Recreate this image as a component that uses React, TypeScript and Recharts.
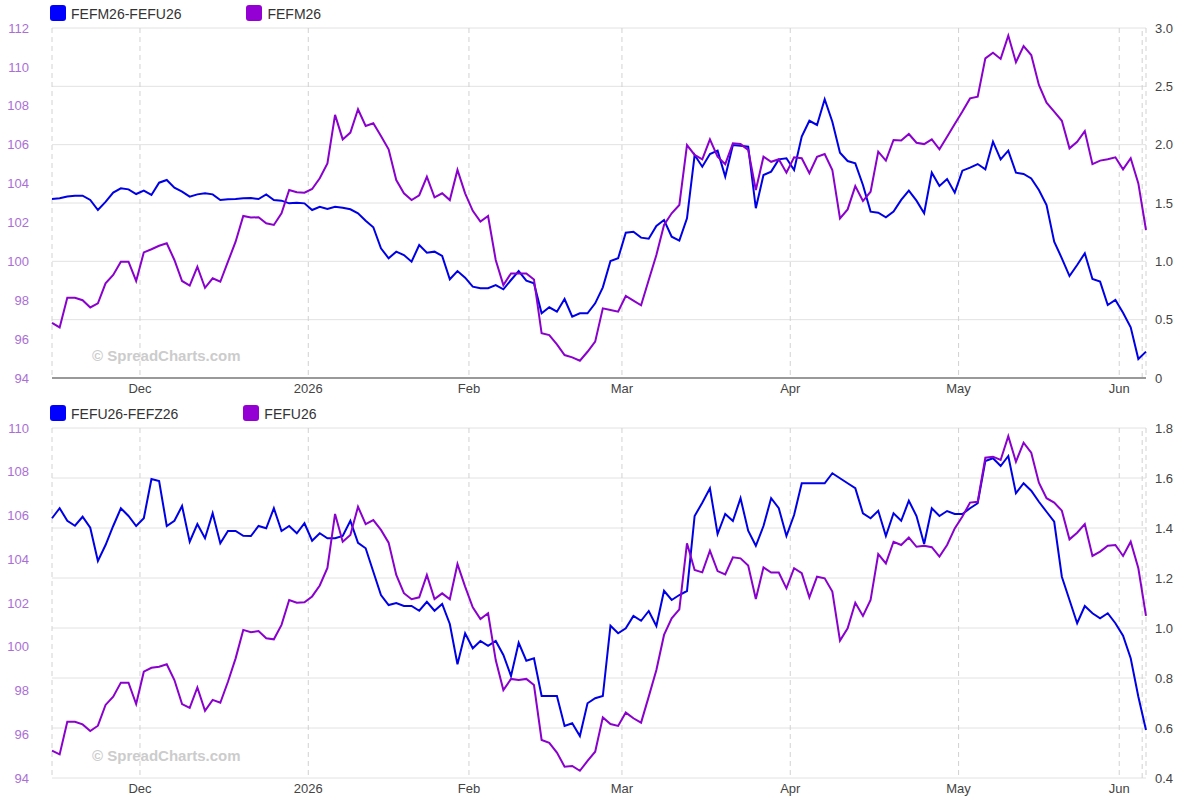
import React from 'react';
import { LineChart, Line, XAxis, YAxis, CartesianGrid, ReferenceLine } from 'recharts';

// Trading-day index 0 = 13 Nov 2025 ... 143 = 4 Jun 2026
const monthTickPos = [11.5, 33.5, 54.5, 74.5, 96.5, 118.5, 139.5];
const monthTickLabels = ['Dec', '2026', 'Feb', 'Mar', 'Apr', 'May', 'Jun'];
const lastMarker = 142.5;

const fefm26 = [
  96.84, 96.6, 98.13, 98.13, 98.0, 97.63, 97.84, 98.87, 99.3, 99.98,
  99.98, 98.99, 100.46, 100.62, 100.8, 100.93, 100.07, 98.99, 98.75, 99.72,
  98.64, 99.13, 98.95, 99.98, 101.01, 102.33, 102.25, 102.27, 101.96, 101.87,
  102.47, 103.67, 103.55, 103.53, 103.72, 104.27, 105.04, 107.53, 106.27, 106.62,
  107.82, 106.96, 107.1, 106.45, 105.76, 104.18, 103.5, 103.15, 103.4, 104.35,
  103.29, 103.5, 103.15, 104.7, 103.5, 102.6, 102.04, 102.33, 100.07, 98.78,
  99.38, 99.38, 99.38, 99.07, 96.3, 96.21, 95.73, 95.18, 95.06, 94.89,
  95.35, 95.87, 97.58, 97.5, 97.41, 98.22, 97.98, 97.74, 99.04, 100.33,
  101.87, 102.47, 102.9, 105.98, 105.47, 105.25, 106.27, 105.38, 105.0, 106.07,
  106.03, 105.73, 103.67, 105.38, 105.12, 105.25, 104.56, 105.35, 105.3, 104.53,
  105.38, 105.52, 104.7, 102.21, 102.67, 103.87, 103.1, 103.58, 105.64, 105.18,
  106.24, 106.21, 106.55, 106.1, 106.03, 106.27, 105.76, 106.41, 107.06, 107.7,
  108.38, 108.47, 110.44, 110.73, 110.41, 111.61, 110.24, 111.07, 110.61, 109.07,
  108.16, 107.7, 107.23, 105.81, 106.15, 106.7, 105.0, 105.18, 105.25, 105.35,
  104.73, 105.3, 104.01, 101.61,
];

const spreadMU = [
  1.534, 1.54, 1.555, 1.563, 1.563, 1.526, 1.44, 1.51, 1.589, 1.626,
  1.617, 1.577, 1.606, 1.569, 1.674, 1.697, 1.631, 1.597, 1.554, 1.574,
  1.583, 1.574, 1.526, 1.532, 1.534, 1.54, 1.543, 1.534, 1.574, 1.526,
  1.52, 1.497, 1.503, 1.497, 1.44, 1.468, 1.449, 1.468, 1.46, 1.446,
  1.412, 1.348, 1.292, 1.112, 1.026, 1.083, 1.054, 0.997, 1.14, 1.074,
  1.083, 1.046, 0.846, 0.917, 0.86, 0.783, 0.769, 0.769, 0.797, 0.76,
  0.84, 0.917, 0.834, 0.811, 0.555, 0.606, 0.568, 0.677, 0.526, 0.555,
  0.555, 0.64, 0.777, 1.003, 1.026, 1.246, 1.254, 1.203, 1.194, 1.303,
  1.354, 1.211, 1.177, 1.369, 1.911, 1.811, 1.92, 1.949, 1.726, 1.997,
  1.991, 1.983, 1.455, 1.74, 1.769, 1.874, 1.883, 1.783, 2.07, 2.205,
  2.169, 2.389, 2.197, 1.931, 1.86, 1.84, 1.654, 1.426, 1.417, 1.377,
  1.426, 1.526, 1.606, 1.52, 1.412, 1.76, 1.646, 1.706, 1.589, 1.777,
  1.803, 1.834, 1.789, 2.026, 1.874, 1.949, 1.76, 1.749, 1.711, 1.611,
  1.483, 1.168, 1.026, 0.874, 0.969, 1.069, 0.849, 0.826, 0.626, 0.669,
  0.56, 0.434, 0.163, 0.226,
];

const fefu26 = [
  95.25, 95.08, 96.57, 96.57, 96.45, 96.15, 96.39, 97.34, 97.72, 98.36,
  98.36, 97.38, 98.86, 99.04, 99.09, 99.2, 98.48, 97.38, 97.21, 98.14,
  97.07, 97.57, 97.44, 98.4, 99.47, 100.77, 100.66, 100.72, 100.39, 100.34,
  101.0, 102.14, 102.01, 102.03, 102.3, 102.8, 103.6, 106.07, 104.8, 105.11,
  106.4, 105.61, 105.79, 105.34, 104.76, 103.28, 102.45, 102.17, 102.26, 103.28,
  102.18, 102.44, 102.17, 103.78, 102.75, 101.8, 101.27, 101.53, 99.39, 98.02,
  98.53, 98.48, 98.53, 98.25, 95.74, 95.61, 95.16, 94.52, 94.55, 94.33,
  94.78, 95.2, 96.77, 96.47, 96.38, 96.99, 96.73, 96.53, 97.72, 98.94,
  100.54, 101.3, 101.71, 104.73, 103.51, 103.4, 104.39, 103.46, 103.31, 104.09,
  104.04, 103.71, 102.18, 103.63, 103.39, 103.39, 102.67, 103.59, 103.36, 102.26,
  103.2, 103.13, 102.52, 100.28, 100.84, 102.01, 101.41, 102.14, 104.24, 103.81,
  104.8, 104.65, 104.99, 104.57, 104.62, 104.55, 104.12, 104.65, 105.41, 105.95,
  106.59, 106.63, 108.64, 108.69, 108.54, 109.63, 108.46, 109.33, 108.87, 107.5,
  106.79, 106.59, 106.22, 104.91, 105.21, 105.61, 104.15, 104.35, 104.62, 104.65,
  104.15, 104.8, 103.59, 101.41,
];

const spreadUZ = [
  1.439, 1.479, 1.429, 1.409, 1.445, 1.401, 1.268, 1.332, 1.408, 1.479,
  1.448, 1.408, 1.439, 1.596, 1.588, 1.408, 1.429, 1.488, 1.345, 1.416,
  1.359, 1.459, 1.339, 1.388, 1.388, 1.369, 1.368, 1.408, 1.399, 1.479,
  1.388, 1.408, 1.379, 1.419, 1.349, 1.379, 1.359, 1.359, 1.368, 1.429,
  1.341, 1.319, 1.225, 1.132, 1.092, 1.1, 1.088, 1.088, 1.069, 1.105,
  1.069, 1.096, 1.016, 0.855, 0.979, 0.919, 0.948, 0.929, 0.948, 0.892,
  0.808, 0.941, 0.869, 0.879, 0.728, 0.728, 0.728, 0.608, 0.619, 0.568,
  0.699, 0.719, 0.728, 1.009, 0.979, 0.999, 1.048, 1.029, 1.068, 1.008,
  1.149, 1.112, 1.132, 1.148, 1.448, 1.501, 1.559, 1.376, 1.456, 1.428,
  1.519, 1.389, 1.329, 1.408, 1.519, 1.479, 1.368, 1.452, 1.579, 1.579,
  1.579, 1.579, 1.619, 1.599, 1.579, 1.559, 1.459, 1.439, 1.469, 1.368,
  1.459, 1.429, 1.509, 1.448, 1.336, 1.479, 1.448, 1.468, 1.456, 1.456,
  1.479, 1.499, 1.668, 1.679, 1.648, 1.688, 1.539, 1.579, 1.549, 1.505,
  1.465, 1.425, 1.205, 1.112, 1.019, 1.088, 1.059, 1.039, 1.059, 1.019,
  0.969, 0.879, 0.725, 0.592,
];

const topLeftTicks = [94, 96, 98, 100, 102, 104, 106, 108, 110, 112];
const topRightTicks = [0, 0.5, 1, 1.5, 2, 2.5, 3];
const botLeftTicks = [94, 96, 98, 100, 102, 104, 106, 108, 110];
const botRightTicks = [0.4, 0.6, 0.8, 1.0, 1.2, 1.4, 1.6, 1.8];

const BLUE = '#0000e6';
const BLUE_SW = '#0000ff';
const PURPLE = '#8a00cc';
const PURPLE_SW = '#9400d3';
const LEFT_TICK = '#aa6fd5';
const FONT = '"Liberation Sans", Arial, Helvetica, sans-serif';

type PanelProps = {
  prices: number[];
  spreads: number[];
  spreadName: string;
  priceName: string;
  leftDomain: [number, number];
  leftTicks: number[];
  rightDomain: [number, number];
  rightTicks: number[];
  rightFmt: (v: number) => string;
  showAxisLine: boolean;
};

const Panel = (p: PanelProps) => {
  const data = p.prices.map((v, i) => ({ i, price: v, spread: p.spreads[i] }));
  return (
    <div style={{ position: 'relative', width: 1200, height: 400 }}>
      <LineChart width={1200} height={400} data={data} margin={{ top: 28, right: 0, bottom: 0, left: 0 }}>
        <CartesianGrid yAxisId="right" vertical={false} stroke="#e2e2e2" />
        <CartesianGrid yAxisId="right" horizontal={false} stroke="#d2d2d2" strokeDasharray="5 4" />
        <XAxis
          dataKey="i"
          type="number"
          domain={[0, 143]}
          ticks={monthTickPos}
          interval={0}
          tickFormatter={(v: number) => monthTickLabels[monthTickPos.indexOf(v)] ?? ''}
          height={22}
          tickSize={0}
          tickMargin={6}
          tickLine={false}
          axisLine={p.showAxisLine ? { stroke: '#999', strokeWidth: 2 } : false}
          tick={{ fill: '#444', fontSize: 13, fontFamily: FONT }}
        />
        <YAxis
          yAxisId="left"
          orientation="left"
          domain={p.leftDomain}
          ticks={p.leftTicks}
          interval={0}
          width={52}
          tickSize={0}
          tickMargin={23}
          tickLine={false}
          axisLine={false}
          allowDataOverflow
          tick={{ fill: LEFT_TICK, fontSize: 13, fontFamily: FONT }}
        />
        <YAxis
          yAxisId="right"
          orientation="right"
          domain={p.rightDomain}
          ticks={p.rightTicks}
          interval={0}
          width={54}
          tickSize={0}
          tickMargin={9}
          tickLine={false}
          axisLine={false}
          allowDataOverflow
          tickFormatter={p.rightFmt}
          tick={{ fill: '#444', fontSize: 13, fontFamily: FONT }}
        />
        <ReferenceLine yAxisId="right" x={lastMarker} stroke="#d2d2d2" strokeDasharray="5 4" />
        <Line yAxisId="right" dataKey="spread" stroke={BLUE} strokeWidth={2} dot={false} isAnimationActive={false} />
        <Line yAxisId="left" dataKey="price" stroke={PURPLE} strokeWidth={2} dot={false} isAnimationActive={false} />
      </LineChart>
      <div style={{ position: 'absolute', left: 50, top: 5, display: 'flex', alignItems: 'flex-start', fontFamily: FONT }}>
        {[{ c: BLUE_SW, n: p.spreadName }, { c: PURPLE_SW, n: p.priceName }].map((it) => (
          <div key={it.n} style={{ display: 'flex', alignItems: 'flex-start', marginRight: 65 }}>
            <div style={{ width: 16, height: 16, borderRadius: 3, background: it.c }} />
            <div style={{ marginLeft: 5, marginTop: 1, fontSize: 14, lineHeight: '16px', color: '#333', whiteSpace: 'nowrap' }}>{it.n}</div>
          </div>
        ))}
      </div>
      <div style={{ position: 'absolute', left: 92, top: 347, fontFamily: FONT, fontSize: 15, fontWeight: 'bold', lineHeight: '17px', color: '#cccccc', whiteSpace: 'nowrap' }}>
        © SpreadCharts.com
      </div>
    </div>
  );
};

export default function App() {
  return (
    <div style={{ position: 'absolute', left: 0, top: 0, width: 1200, height: 800, background: '#fff', fontFamily: FONT }}>
      <Panel
        prices={fefm26}
        spreads={spreadMU}
        spreadName="FEFM26-FEFU26"
        priceName="FEFM26"
        leftDomain={[94, 112]}
        leftTicks={topLeftTicks}
        rightDomain={[0, 3]}
        rightTicks={topRightTicks}
        rightFmt={(v: number) => (v === 0 ? '0' : v.toFixed(1))}
        showAxisLine={true}
      />
      <Panel
        prices={fefu26}
        spreads={spreadUZ}
        spreadName="FEFU26-FEFZ26"
        priceName="FEFU26"
        leftDomain={[94, 110]}
        leftTicks={botLeftTicks}
        rightDomain={[0.4, 1.8]}
        rightTicks={botRightTicks}
        rightFmt={(v: number) => v.toFixed(1)}
        showAxisLine={false}
      />
    </div>
  );
}
